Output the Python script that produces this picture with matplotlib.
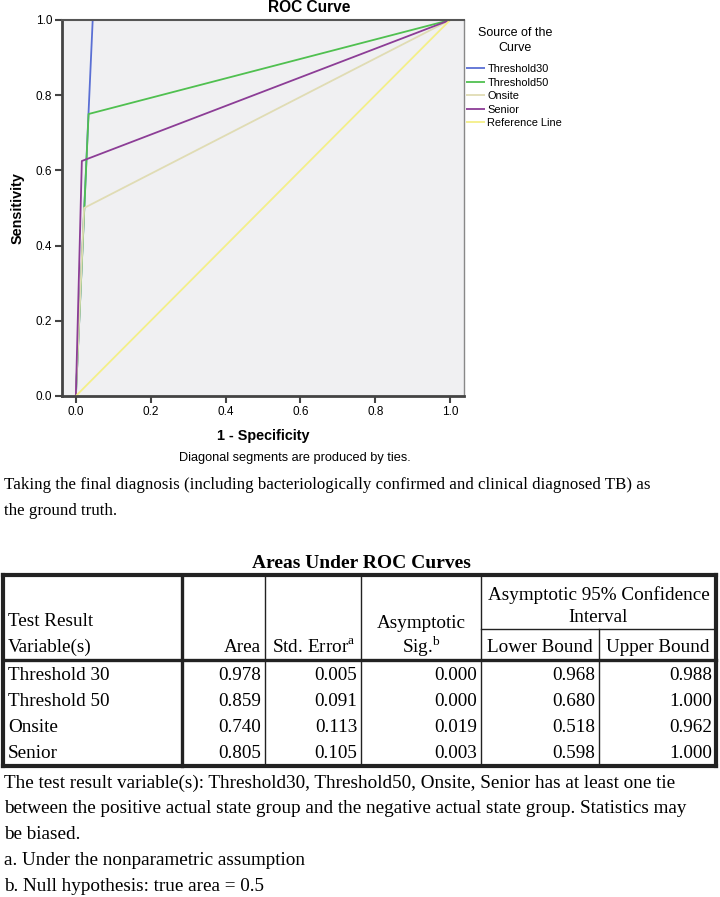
import matplotlib
matplotlib.use("Agg")
import matplotlib.pyplot as plt
from matplotlib import font_manager

# ---------------- data ----------------
series_names = ["Threshold30", "Threshold50", "Onsite", "Senior", "Reference Line"]
series_fpr = [
    [0.0, 0.045, 1.0],
    [0.0, 0.034, 1.0],
    [0.0, 0.022, 1.0],
    [0.0, 0.016, 1.0],
    [0.0, 1.0],
]
series_tpr = [
    [0.0, 1.0, 1.0],
    [0.0, 0.75, 1.0],
    [0.0, 0.50, 1.0],
    [0.0, 0.625, 1.0],
    [0.0, 1.0],
]
series_colors = ["#5a6fd4", "#50c050", "#e0dcb4", "#8c3d96", "#f4ef88"]
tick_values = [0.0, 0.2, 0.4, 0.6, 0.8, 1.0]

table_title = "Areas Under ROC Curves"
row_labels = ["Threshold 30", "Threshold 50", "Onsite", "Senior"]
area = ["0.978", "0.859", "0.740", "0.805"]
std_error = ["0.005", "0.091", "0.113", "0.105"]
asym_sig = ["0.000", "0.000", "0.019", "0.003"]
lower_bound = ["0.968", "0.680", "0.518", "0.598"]
upper_bound = ["0.988", "1.000", "0.962", "1.000"]

caption_top = ["Taking the final diagnosis (including bacteriologically confirmed and clinical diagnosed TB) as",
               "the ground truth."]
caption_bottom = ["The test result variable(s): Threshold30, Threshold50, Onsite, Senior has at least one tie",
                  "between the positive actual state group and the negative actual state group. Statistics may",
                  "be biased.",
                  "a. Under the nonparametric assumption",
                  "b. Null hypothesis: true area = 0.5"]

# ---------------- fonts ----------------
avail = {f.name for f in font_manager.fontManager.ttflist}
sans = ["Liberation Sans Narrow", "Liberation Sans", "DejaVu Sans"]
sans = [f for f in sans if f in avail] + ["DejaVu Sans"]
serif = ["Liberation Serif", "DejaVu Serif"]
plt.rcParams["mathtext.fontset"] = "custom"
plt.rcParams["mathtext.rm"] = "Liberation Serif"

W, H = 720, 897
fig = plt.figure(figsize=(W / 100, H / 100), dpi=100)

def px_axes(l, t, r, b):
    return fig.add_axes([l / W, 1 - b / H, (r - l) / W, (b - t) / H])

# overlay axes in pixel coordinates for texts and table
ov = fig.add_axes([0, 0, 1, 1], zorder=-1)
ov.set_xlim(0, W)
ov.set_ylim(H, 0)
ov.axis("off")

# ---------------- ROC chart ----------------
ax = px_axes(62, 20, 464, 396)
ax.set_facecolor("#f0f0f2")
for name, xs, ys, c in zip(series_names, series_fpr, series_tpr, series_colors):
    ax.plot(xs, ys, color=c, lw=1.3, label=name, solid_capstyle="butt")
ax.set_xlim(-0.037, 1.037)
ax.set_ylim(0, 1)
ax.set_xticks(tick_values)
ax.set_yticks(tick_values)
ax.set_xticklabels([f"{v:.1f}" for v in tick_values], family=sans, fontsize=8.5)
ax.set_yticklabels([f"{v:.1f}" for v in tick_values], family=sans, fontsize=8.5)
ax.tick_params(direction="out", length=5, width=1.5, color="#444444", pad=2)
for s in ["left", "bottom"]:
    ax.spines[s].set_linewidth(2)
    ax.spines[s].set_color("#444444")
ax.spines["top"].set_linewidth(1.5)
ax.spines["top"].set_color("#555555")
ax.spines["right"].set_linewidth(1)
ax.spines["right"].set_color("#888888")
ax.set_xlabel("1 - Specificity", family=sans, fontsize=10.4, fontweight="bold", labelpad=8)
ax.set_ylabel("Sensitivity", family=sans, fontsize=10.4, fontweight="bold", labelpad=8)

leg = ax.legend(loc="upper left", bbox_to_anchor=(466, 64), bbox_transform=ov.transData,
                frameon=False, prop={"family": sans, "size": 7.9},
                handlelength=1.75, handletextpad=0.2, labelspacing=0.32,
                borderaxespad=0, borderpad=0)

ov.text(515, 40.5, "Source of the\nCurve", family=sans, fontsize=9.0, ha="center", va="center",
        multialignment="center", linespacing=1.3)
ov.text(309, 7, "ROC Curve", family=sans, fontsize=11.2, fontweight="bold", ha="center", va="center")
ov.text(295, 458, "Diagonal segments are produced by ties.", family=sans, fontsize=9.2, ha="center", va="center")

fs_top = 12.2
for i, line in enumerate(caption_top):
    ov.text(4, 485 + 26 * i, line, family=serif, fontsize=fs_top, ha="left", va="center")

fs = 13.8
ov.text(361, 564, table_title, family=serif, fontsize=14, fontweight="bold", ha="center", va="center")

# table geometry
top, sub, hb, bot = 575, 629, 660, 766
row_h = 25.7
rows_y = [hb + 16 + row_h * i for i in range(len(row_labels))]
cols = [3, 182, 265, 361, 481, 599, 716]

thick, thin = 3.0, 1.0
ov.plot([cols[0], cols[-1]], [top, top], color="#222", lw=thick, solid_capstyle="projecting")
ov.plot([cols[0], cols[-1]], [bot, bot], color="#222", lw=thick, solid_capstyle="projecting")
ov.plot([cols[0], cols[-1]], [hb, hb], color="#222", lw=2.4)
ov.plot([cols[0], cols[0]], [top, bot], color="#222", lw=thick)
ov.plot([cols[-1], cols[-1]], [top, bot], color="#222", lw=thick)
ov.plot([cols[1], cols[1]], [top, bot], color="#222", lw=2.4)
for cx in cols[2:5]:
    ov.plot([cx, cx], [top, bot], color="#222", lw=thin)
ov.plot([cols[5], cols[5]], [sub, bot], color="#222", lw=thin)
ov.plot([cols[4], cols[6]], [sub, sub], color="#222", lw=thin)

# header texts
ov.text(8, 621, "Test Result", family=serif, fontsize=fs, ha="left", va="center")
ov.text(8, 647, "Variable(s)", family=serif, fontsize=fs, ha="left", va="center")
ov.text(cols[2] - 4, 647, "Area", family=serif, fontsize=fs, ha="right", va="center")
ov.text((cols[2] + cols[3]) / 2 + 1, 647, r"Std. Error$^{\mathrm{a}}$", family=serif, fontsize=fs, ha="center", va="center")
ov.text((cols[3] + cols[4]) / 2, 623, "Asymptotic", family=serif, fontsize=fs, ha="center", va="center")
ov.text((cols[3] + cols[4]) / 2, 647, r"Sig.$^{\mathrm{b}}$", family=serif, fontsize=fs, ha="center", va="center")
ov.text((cols[4] + cols[6]) / 2, 595, "Asymptotic 95% Confidence", family=serif, fontsize=fs, ha="center", va="center")
ov.text((cols[4] + cols[6]) / 2, 618, "Interval", family=serif, fontsize=fs, ha="center", va="center")
ov.text((cols[4] + cols[5]) / 2, 647, "Lower Bound", family=serif, fontsize=fs, ha="center", va="center")
ov.text((cols[5] + cols[6]) / 2, 647, "Upper Bound", family=serif, fontsize=fs, ha="center", va="center")

for y, lab, a, se, sg, lb, ub in zip(rows_y, row_labels, area, std_error, asym_sig, lower_bound, upper_bound):
    ov.text(8, y, lab, family=serif, fontsize=fs, ha="left", va="center")
    for cx, val in zip(cols[2:], [a, se, sg, lb, ub]):
        ov.text(cx - 4, y, val, family=serif, fontsize=fs, ha="right", va="center")

for i, line in enumerate(caption_bottom):
    ov.text(4, 783 + 25.8 * i, line, family=serif, fontsize=fs, ha="left", va="center")

fig.savefig("out.png", dpi=100)
